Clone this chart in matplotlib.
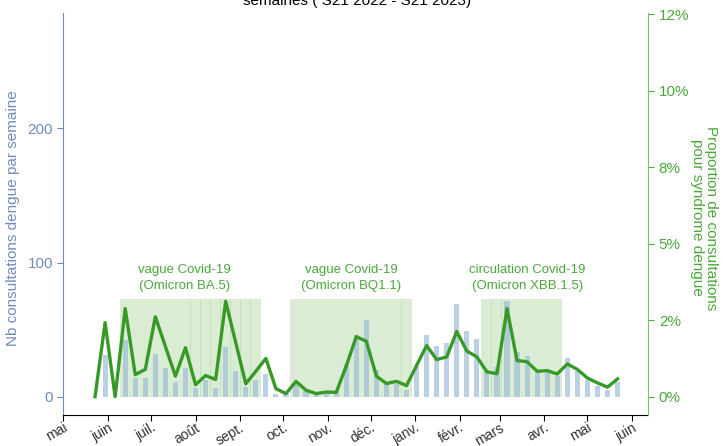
import datetime as dt
import matplotlib
matplotlib.use("Agg")
import matplotlib.pyplot as plt
import matplotlib.dates as mdates
from matplotlib.ticker import FixedLocator, FuncFormatter
from matplotlib.patches import Rectangle

plt.rcParams['font.family'] = ['Liberation Sans', 'DejaVu Sans']

# semaines S21 2022 -> S21 2023 (lundi de chaque semaine)
start = dt.date(2022, 5, 23)
weeks = [start + dt.timedelta(days=7 * k) for k in range(53)]

# nombre de consultations dengue par semaine
nb_consult = [0, 31, 0, 42, 14, 14, 32, 21, 11, 21, 6, 12, 6, 37, 19, 7, 12, 17,
              2, 2, 9, 4, 2, 3, 4, 24, 46, 57, 20, 10, 9, 5, 23, 46, 38, 40, 69,
              49, 43, 18, 22, 71, 33, 30, 20, 20, 15, 29, 19, 12, 8, 5, 11]

# proportion de consultations pour syndrome dengue (%)
prop = [0.0, 2.42, 0.0, 2.88, 0.72, 0.89, 2.61, 1.64, 0.67, 1.6, 0.39, 0.69,
        0.56, 3.12, 1.77, 0.42, 0.83, 1.25, 0.26, 0.1, 0.5, 0.21, 0.1, 0.15,
        0.14, 1.0, 1.96, 1.81, 0.67, 0.43, 0.5, 0.36, 1.02, 1.67, 1.21, 1.3,
        2.13, 1.49, 1.3, 0.81, 0.75, 2.88, 1.18, 1.14, 0.83, 0.85, 0.74, 1.07,
        0.89, 0.61, 0.45, 0.31, 0.58]

# périodes de circulation Covid-19 (indices de semaines)
waves = [(3, 16), (20, 31), (39, 46)]
wave_labels = ["vague Covid-19\n(Omicron BA.5)",
               "vague Covid-19\n(Omicron BQ1.1)",
               "circulation Covid-19\n(Omicron XBB.1.5)"]
wave_label_pos = [8.9, 25.5, 43.0]

month_ticks = [dt.date(2022, m, 1) for m in range(5, 13)] + \
              [dt.date(2023, m, 1) for m in range(1, 7)]
month_labels = ["mai", "juin", "juil.", "août", "sept.", "oct.", "nov.", "déc.",
                "janv.", "févr.", "mars", "avr.", "mai", "juin"]

blue = '#6f8cbd'
green = '#4aa83a'
line_green = '#379a27'

fig = plt.figure(figsize=(7.23, 4.46), dpi=100)
ax = fig.add_axes([0.0878, 0.0695, 0.809, 0.902])
ax2 = ax.twinx()

xw = mdates.date2num(weeks)
wk = 7.0

for a, b in waves:
    for k in range(a, b + 1):
        ax.add_patch(Rectangle((xw[k] - 0.55 * wk, 0), 1.05 * wk, 73,
                               facecolor='#9fd18f', edgecolor='none', alpha=0.38, zorder=1))

ax.bar(xw, nb_consult, width=3.6, color='#9ebdd6', alpha=0.7, zorder=2)

for lab, p in zip(wave_labels, wave_label_pos):
    xp = xw[0] + p * wk
    ax.text(xp, 88.5, lab, ha='center', va='center', color=green, fontsize=9.5,
            linespacing=1.45, zorder=3)

ax2.plot(xw, prop, color=line_green, lw=2.4, zorder=4)

ax.set_xlim(mdates.date2num(dt.date(2022, 5, 1)), mdates.date2num(dt.datetime(2023, 6, 12, 12)))
ax.set_ylim(-13.8, 286.4)
ax2.set_ylim(-0.6, 12.55)

ax.xaxis.set_major_locator(FixedLocator(mdates.date2num(month_ticks)))
ax.set_xticklabels(month_labels, rotation=30, ha='right', va='top', rotation_mode='anchor',
                   fontsize=10, color='#333333')
ax.tick_params(axis='x', length=4, color='black', pad=0)

ax.set_yticks([0, 100, 200])
ax.tick_params(axis='y', colors=blue, labelsize=11, length=4)
ax.set_ylabel("Nb consultations dengue par semaine", color=blue, fontsize=11)
ax.yaxis.set_label_coords(-0.075, 0.49)

ax2.set_yticks([0, 2.5, 5, 7.5, 10, 12.5])
ax2.yaxis.set_major_formatter(FuncFormatter(lambda v, pos: f"{round(v)}%"))
ax2.tick_params(axis='y', colors=green, labelsize=11, length=4)
ax2.set_ylabel("Proportion de consultations\npour syndrome dengue", color=green,
               fontsize=11, rotation=270, va='center', ha='center', linespacing=1.0)
ax2.yaxis.set_label_coords(1.095, 0.49)

for a in (ax, ax2):
    a.spines['top'].set_visible(False)
ax.spines['right'].set_visible(False)
ax2.spines['left'].set_visible(False)
ax2.spines['bottom'].set_visible(False)
ax.spines['left'].set_color(blue)
ax2.spines['right'].set_color('#7cc46a')
ax.spines['bottom'].set_color('black')

fig.text(0.494, 0.989, "semaines ( S21 2022 - S21 2023)", ha='center', va='baseline',
         fontsize=11, color='black')

fig.savefig("out.png", dpi=100)
